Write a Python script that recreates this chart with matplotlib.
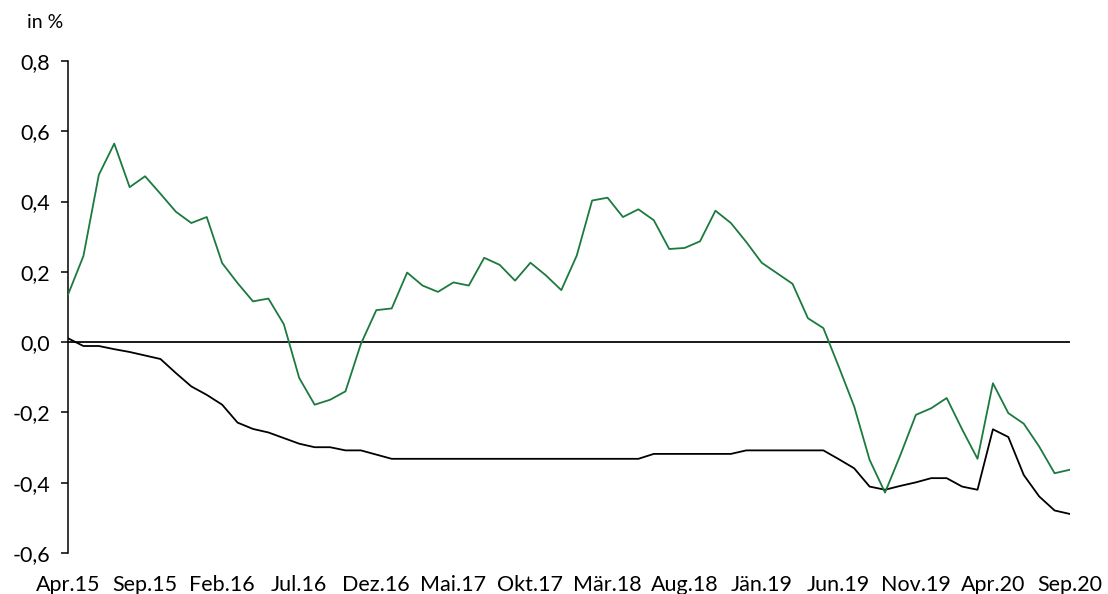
import numpy as np
import matplotlib
matplotlib.use("Agg")
import matplotlib.pyplot as plt

plt.rcParams['font.family'] = ['Lato', 'DejaVu Sans']

# monthly, Apr.15 .. Sep.20
tick_labels = ["Apr.15", "Sep.15", "Feb.16", "Jul.16", "Dez.16", "Mai.17", "Okt.17",
               "Mär.18", "Aug.18", "Jän.19", "Jun.19", "Nov.19", "Apr.20", "Sep.20"]

green = [0.135, 0.245, 0.476, 0.565, 0.441, 0.472, 0.422, 0.371, 0.339, 0.356,
         0.225, 0.168, 0.116, 0.124, 0.051, -0.102, -0.178, -0.164, -0.140, -0.005,
         0.091, 0.096, 0.198, 0.161, 0.143, 0.170, 0.161, 0.240, 0.220, 0.175,
         0.226, 0.190, 0.148, 0.246, 0.403, 0.411, 0.356, 0.378, 0.347, 0.265,
         0.268, 0.287, 0.374, 0.339, 0.285, 0.226, 0.196, 0.166, 0.068, 0.040,
         -0.070, -0.183, -0.335, -0.428, -0.321, -0.207, -0.188, -0.159, -0.248, -0.332,
         -0.117, -0.202, -0.232, -0.297, -0.373, -0.363]

black = [0.011, -0.011, -0.011, -0.020, -0.028, -0.038, -0.048, -0.088, -0.126, -0.150,
         -0.178, -0.229, -0.247, -0.257, -0.273, -0.289, -0.299, -0.299, -0.308, -0.308,
         -0.320, -0.332, -0.332, -0.332, -0.332, -0.332, -0.332, -0.332, -0.332, -0.332,
         -0.332, -0.332, -0.332, -0.332, -0.332, -0.332, -0.332, -0.332, -0.318, -0.318,
         -0.318, -0.318, -0.318, -0.318, -0.308, -0.308, -0.308, -0.308, -0.308, -0.308,
         -0.333, -0.359, -0.411, -0.420, -0.409, -0.399, -0.387, -0.387, -0.411, -0.420,
         -0.248, -0.270, -0.378, -0.439, -0.479, -0.489]

x = np.arange(len(green))

fig = plt.figure(figsize=(11.08, 5.94), dpi=100)
ax = fig.add_axes([68/1108, 1-553/594, (1070-68)/1108, (553-61)/594])

ax.axhline(0, color='#1a1a1a', lw=1.4, zorder=1)
ax.plot(x, black, color='black', lw=1.3, zorder=2)
ax.plot(x, green, color='#1b7a3e', lw=1.3, zorder=3)

ax.set_xlim(0, len(green) - 1)
ax.set_ylim(-0.6, 0.8)
ax.set_yticks(np.arange(-0.6, 0.81, 0.2))
ax.set_yticklabels([f"{v:.1f}".replace('.', ',') for v in np.arange(-0.6, 0.81, 0.2)])
ax.set_xticks(np.arange(0, len(green), 5))
ax.set_xticklabels(tick_labels)

for s in ['top', 'right', 'bottom']:
    ax.spines[s].set_visible(False)
ax.spines['left'].set_linewidth(1.1)
ax.tick_params(axis='y', direction='out', length=5, width=1.1, labelsize=15.5, pad=8)
ax.tick_params(axis='x', length=0, labelsize=15.5, pad=16)

fig.text(27/1108, 1-22/594, "in %", fontsize=14, va='center', ha='left')

fig.savefig("out.png", dpi=100)
